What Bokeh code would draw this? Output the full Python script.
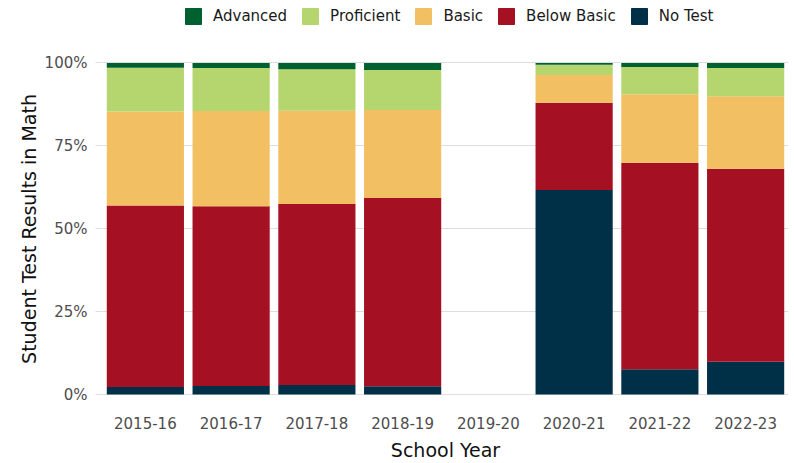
from bokeh.plotting import figure
from bokeh.layouts import column
from bokeh.models import ColumnDataSource, Legend, LegendItem, NumeralTickFormatter, FixedTicker, Range1d
from bokeh.embed import file_html
from bokeh.resources import INLINE

years = ["2015-16", "2016-17", "2017-18", "2018-19", "2019-20", "2020-21", "2021-22", "2022-23"]
no_test = [2.3, 2.6, 2.9, 2.5, 0, 61.7, 7.6, 9.9]
below_basic = [54.7, 54.2, 54.6, 56.8, 0, 26.3, 62.3, 58.2]
basic = [28.4, 28.7, 28.1, 26.5, 0, 8.4, 20.7, 21.9]
proficient = [13.2, 13.0, 12.5, 12.1, 0, 3.1, 8.2, 8.5]
advanced = [1.4, 1.5, 1.9, 2.1, 0, 0.5, 1.2, 1.5]

levels = ["No Test", "Below Basic", "Basic", "Proficient", "Advanced"]
colors = ["#002f48", "#a51123", "#f2c063", "#b5d56f", "#006130"]

data = {"year": years}
for name, vals in zip(levels, [no_test, below_basic, basic, proficient, advanced]):
    data[name] = [v / 100.0 for v in vals]
src = ColumnDataSource(data)

# ---- legend strip (dummy glyphs lie outside its ranges) ----
lg = figure(width=792, height=30, x_range=Range1d(0, 1), y_range=Range1d(0, 1),
            x_axis_type=None, y_axis_type=None, min_border=0,
            output_backend="svg", toolbar_location=None)
lg.outline_line_color = None
lg.xgrid.grid_line_color = None
lg.ygrid.grid_line_color = None
dummies = {}
for name, c in zip(levels, colors):
    dummies[name] = lg.vbar(x=[-10], top=[-10], width=0.5, fill_color=c, line_color=c)
order = ["Advanced", "Proficient", "Basic", "Below Basic", "No Test"]
legend = Legend(items=[LegendItem(label=n, renderers=[dummies[n]]) for n in order],
                orientation="horizontal", location=(81, 4),
                glyph_width=20, glyph_height=20, label_text_font="DejaVu Sans",
                label_text_font_size="15px", label_text_color="#1a1a1a",
                spacing=13, padding=0, margin=0, border_line_color=None,
                label_standoff=10, background_fill_alpha=0)
lg.add_layout(legend)

# ---- main chart ----
p = figure(x_range=years, y_range=(-0.006, 1.0045),
           width=792, height=433,
           min_border_left=102, min_border_right=4, min_border_top=31, min_border_bottom=67,
           output_backend="svg", toolbar_location=None)

renderers = p.vbar_stack(levels, x="year", width=0.9, source=src, color=colors,
                         line_color=None)

p.xgrid.grid_line_color = None
p.ygrid.grid_line_color = "#dedede"
p.ygrid.grid_line_width = 1
p.outline_line_color = None

p.yaxis.ticker = FixedTicker(ticks=[0, 0.25, 0.5, 0.75, 1.0])
p.yaxis.formatter = NumeralTickFormatter(format="0%")
for ax in (p.xaxis[0], p.yaxis[0]):
    ax.axis_line_color = None
    ax.minor_tick_line_color = None
    ax.major_label_text_font = "DejaVu Sans"
    ax.major_label_text_font_size = "15px"
    ax.major_label_text_color = "#4d4d4d"
    ax.axis_label_text_font = "DejaVu Sans"
    ax.axis_label_text_font_size = "19px"
    ax.axis_label_text_font_style = "normal"
    ax.axis_label_text_color = "#111111"
p.xaxis.major_tick_line_color = None
p.xaxis.major_tick_out = 0
p.xaxis.major_tick_in = 0
p.xaxis.major_label_standoff = 20
p.xaxis.axis_label = "School Year"
p.xaxis.axis_label_standoff = 7
p.yaxis.major_tick_line_color = "#dedede"
p.yaxis.major_tick_in = 0
p.yaxis.major_tick_out = 7
p.yaxis.major_label_standoff = 8
p.yaxis.axis_label = "Student Test Results in Math"
p.yaxis.axis_label_standoff = 2

layout = column(lg, p, spacing=0)
open("out.html", "w").write(file_html(layout, INLINE))
